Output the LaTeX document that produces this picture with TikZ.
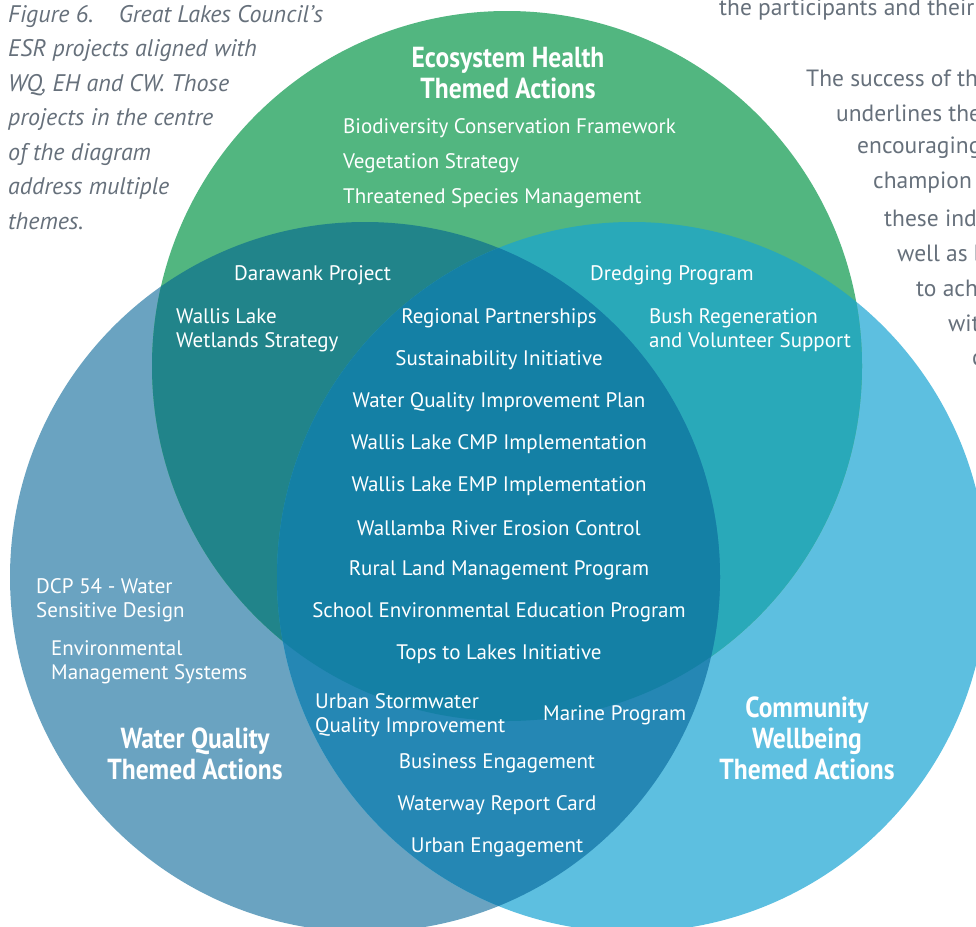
\documentclass[tikz,border=0pt]{standalone}
\usepackage{xcolor}
\usepackage{fontspec}
\setmainfont{PT Sans}
\newfontfamily\headfont[FakeStretch=0.88]{PT Sans}
\usepackage{tikz}

\definecolor{ehgreen}{HTML}{52B680}
\definecolor{wqblue}{HTML}{6AA3C1}
\definecolor{cwblue}{HTML}{5DBFE0}
\definecolor{ehwq}{HTML}{21848A}
\definecolor{ehcw}{HTML}{29A9B9}
\definecolor{wqcw}{HTML}{2587B4}
\definecolor{allthree}{HTML}{1480A5}
\definecolor{notegrey}{HTML}{66707B}

\begin{document}
\begin{tikzpicture}[x=1pt,y=-1pt,
    item/.style={text=white,inner sep=0pt,font=\fontsize{21}{24}\selectfont},
    theme/.style={text=white,inner sep=0pt,align=center,font=\headfont\bfseries\fontsize{29}{31}\selectfont},
    note/.style={text=notegrey,inner sep=0pt,anchor=west,font=\fontsize{23.5}{24}\selectfont}]
    \useasboundingbox (0,0) rectangle (976,926);
    \coordinate (EH) at (507,366);
    \coordinate (WQ) at (365,577);
    \coordinate (CW) at (632,577);

    % theme circles
    \fill[wqblue] (WQ) circle (355pt);
    \fill[cwblue] (CW) circle (355pt);
    \fill[ehgreen] (EH) circle (355pt);
    \begin{scope}
        \clip (EH) circle (355pt);
        \fill[ehwq] (WQ) circle (355pt);
        \fill[ehcw] (CW) circle (355pt);
    \end{scope}
    \begin{scope}
        \clip (WQ) circle (355pt);
        \fill[wqcw] (CW) circle (355pt);
    \end{scope}
    \begin{scope}
        \clip (EH) circle (355pt);
        \clip (WQ) circle (355pt);
        \fill[allthree] (CW) circle (355pt);
    \end{scope}

    % caption
    \node[note,anchor=north west,align=left,font=\itshape\fontsize{24}{34.5}\selectfont] (cap) at (8,5)
        {Figure 6.\hspace{0.7em} Great Lakes Council's\\ESR projects aligned with\\WQ, EH and CW. Those\\projects in the centre\\of the diagram\\address multiple\\themes.};

    % side text
    \node[note,anchor=base west] (s0) at (719,15) {the participants and their};
    \node[note] (s1) at (806,78) {The success of th};
    \node[note] (s2) at (836,113) {underlines the};
    \node[note] (s3) at (857,148) {encouraging};
    \node[note] (s4) at (873,183) {champion};
    \node[note] (s5) at (884,218) {these ind};
    \node[note] (s6) at (897,253) {well as b};
    \node[note] (s7) at (916,288) {to ach};
    \node[note] (s8) at (948,323) {wit};
    \node[note] (s9) at (972,360) {c};

    % theme titles
    \node[theme] (ehT) at (508,73) {Ecosystem Health\\Themed Actions};
    \node[theme] (wqT) at (195,754) {Water Quality\\Themed Actions};
    \node[theme] (cwT) at (807,738) {Community\\Wellbeing\\Themed Actions};

    % ecosystem health only
    \node[item,anchor=west] (eh1) at (343,128) {Biodiversity Conservation Framework};
    \node[item,anchor=west] (eh2) at (343,163) {Vegetation Strategy};
    \node[item,anchor=west] (eh3) at (343,198) {Threatened Species Management};

    % two themes
    \node[item,anchor=west] (ew1) at (234,275) {Darawank Project};
    \node[item,anchor=west,align=left] (ew2) at (176,330) {Wallis Lake\\Wetlands Strategy};
    \node[item,anchor=west] (ec1) at (590,275) {Dredging Program};
    \node[item,anchor=west,align=left] (ec2) at (649,330) {Bush Regeneration\\and Volunteer Support};
    \node[item,anchor=west,align=left] (wc1) at (315,715) {Urban Stormwater\\Quality Improvement};
    \node[item,anchor=west] (wc2) at (543,715) {Marine Program};
    \node[item] (wc3) at (497,763) {Business Engagement};
    \node[item] (wc4) at (497,805) {Waterway Report Card};
    \node[item] (wc5) at (497,847) {Urban Engagement};

    % all three themes
    \node[item] (c1) at (499,318) {Regional Partnerships};
    \node[item] (c2) at (499,360) {Sustainability Initiative};
    \node[item] (c3) at (499,402) {Water Quality Improvement Plan};
    \node[item] (c4) at (499,444) {Wallis Lake CMP Implementation};
    \node[item] (c5) at (499,486) {Wallis Lake EMP Implementation};
    \node[item] (c6) at (499,528) {Wallamba River Erosion Control};
    \node[item] (c7) at (499,570) {Rural Land Management Program};
    \node[item] (c8) at (499,612) {School Environmental Education Program};
    \node[item] (c9) at (499,654) {Tops to Lakes Initiative};

    % water quality only
    \node[item,anchor=west,align=left] (wq1) at (36,600) {DCP 54 - Water\\Sensitive Design};
    \node[item,anchor=west,align=left] (wq2) at (51,662) {Environmental\\Management Systems};
\end{tikzpicture}
\end{document}
